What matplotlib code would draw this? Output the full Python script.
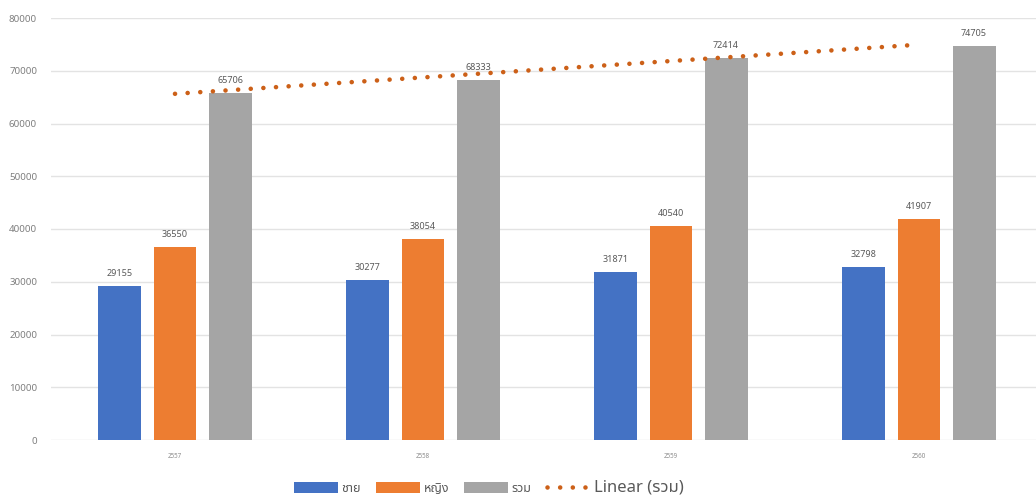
import matplotlib
matplotlib.use("Agg")
import matplotlib.pyplot as plt
import numpy as np
from matplotlib.patches import Patch
from matplotlib.lines import Line2D
from matplotlib import font_manager

years = ["2557", "2558", "2559", "2560"]
male = [29155, 30277, 31871, 32798]
female = [36550, 38054, 40540, 41907]
total = [65706, 68333, 72414, 74705]
series_names = ["ชาย", "หญิง", "รวม"]
yticks = [0, 10000, 20000, 30000, 40000, 50000, 60000, 70000, 80000]

avail = {f.name for f in font_manager.fontManager.ttflist}
thai_candidates = ["Noto Sans Thai", "Noto Sans Thai UI", "Tlwg Typo", "Loma", "Garuda", "Norasi", "Waree", "Sawasdee"]
fams = [f for f in thai_candidates if f in avail] + ["DejaVu Sans"]
plt.rcParams['font.family'] = fams

W, H = 1036, 497
fig = plt.figure(figsize=(W/100, H/100), dpi=100)
ax = fig.add_axes([51/W, (H-440)/H, 992/W, (440-18)/H])

colors = ["#4472C4", "#ED7D31", "#A5A5A5"]
trend_color = "#CC6018"
dot_style = (0, (0.01, 2.75))
x = np.arange(len(years))
pitch = 0.222
bw = 0.173
label_color = "#595959"
for i, (vals, c) in enumerate(zip([male, female, total], colors)):
    xs = x + (i - 1) * pitch
    ax.bar(xs, vals, width=bw, color=c, zorder=2)
    for xi, v in zip(xs, vals):
        ax.text(xi, v + 1500, str(v), ha="center", va="bottom", fontsize=6.5, color=label_color)

# linear trendline on total
coef = np.polyfit(x + 1, total, 1)
xt = np.linspace(0, 3, 200)
ax.plot(xt, np.polyval(coef, xt + 1), linestyle=dot_style, color=trend_color,
        linewidth=3.3, dash_capstyle="round", zorder=3)

ax.set_ylim(0, 80000)
ax.set_xlim(-0.5, 3.5)
ax.set_yticks(yticks)
ax.set_yticklabels([str(t) for t in yticks], fontsize=7, color="#7F7F7F")
ax.set_xticks(x)
ax.set_xticklabels(years, fontsize=4.5, color="#8C8C8C")
ax.tick_params(axis="both", length=0)
ax.tick_params(axis="y", pad=10)
ax.tick_params(axis="x", pad=9)
ax.grid(axis="y", color="#E3E3E3", linewidth=1, zorder=0)
for s in ax.spines.values():
    s.set_visible(False)

handles = [Patch(facecolor=c) for c in colors] + [
    Line2D([0], [0], linestyle=dot_style, color=trend_color, linewidth=3.3, dash_capstyle="round")]
labels = series_names + ["Linear (รวม)"]
leg = fig.legend(handles, labels, loc="lower center", bbox_to_anchor=(0.472, -0.02), ncol=4,
                 frameon=False, fontsize=9, handlelength=3.5, handleheight=1.0,
                 columnspacing=1.2, handletextpad=0.3)
for t in leg.get_texts()[:3]:
    t.set_color("#595959")
leg.get_texts()[3].set_fontsize(12)
leg.get_texts()[3].set_color("#595959")

fig.savefig("out.png", dpi=100)
